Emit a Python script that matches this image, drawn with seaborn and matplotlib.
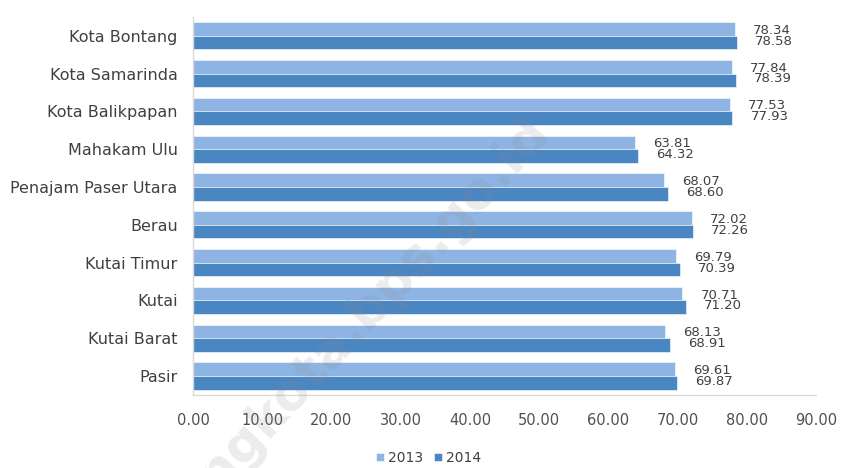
import matplotlib
matplotlib.use("Agg")
import matplotlib.pyplot as plt
import seaborn as sns
import pandas as pd

regions = ["Kota Bontang", "Kota Samarinda", "Kota Balikpapan", "Mahakam Ulu",
           "Penajam Paser Utara", "Berau", "Kutai Timur", "Kutai", "Kutai Barat", "Pasir"]
ipm_2013 = [78.34, 77.84, 77.53, 63.81, 68.07, 72.02, 69.79, 70.71, 68.13, 69.61]
ipm_2014 = [78.58, 78.39, 77.93, 64.32, 68.60, 72.26, 70.39, 71.20, 68.91, 69.87]
years = ["2013", "2014"]
x_ticks = [0, 10, 20, 30, 40, 50, 60, 70, 80, 90]

df = pd.DataFrame({
    "Wilayah": regions * 2,
    "Tahun": [years[0]] * len(regions) + [years[1]] * len(regions),
    "IPM": ipm_2013 + ipm_2014,
})

sns.set_theme(style="white")
plt.rcParams["font.family"] = ["DejaVu Sans"]

fig = plt.figure(figsize=(8.45, 4.68), dpi=100)
ax = fig.add_axes([0.2284, 0.156, 0.7373, 0.808])

palette = {"2013": "#8EB4E3", "2014": "#4A86C2"}
sns.barplot(data=df, y="Wilayah", x="IPM", hue="Tahun", order=regions,
            hue_order=years, palette=palette, orient="h", width=0.72,
            edgecolor="white", linewidth=0.4, saturation=1, ax=ax)

text_color = "#404040"
for cont, dy in zip(ax.containers, [-1.0, 1.0]):
    labels = ax.bar_label(cont, fmt="%.2f", padding=13, fontsize=9.5,
                          color=text_color)
    for t in labels:
        t.set_y(dy)

ax.set_xlim(0, 90)
ax.set_xticks(x_ticks)
ax.set_xticklabels([f"{v:.2f}" for v in x_ticks])
ax.set_xlabel("")
ax.set_ylabel("")
ax.tick_params(axis="x", length=0, pad=13, labelsize=10.5, labelcolor="#505050")
ax.tick_params(axis="y", length=0, pad=11, labelsize=11.5, labelcolor=text_color)

for side in ["top", "right"]:
    ax.spines[side].set_visible(False)
for side in ["left", "bottom"]:
    ax.spines[side].set_color("#D9D9D9")
    ax.spines[side].set_linewidth(1.0)

ax.legend(loc="center", bbox_to_anchor=(0.507, 0.022),
          bbox_transform=fig.transFigure, ncol=2, frameon=False, fontsize=10,
          handlelength=0.55, handleheight=0.55, handletextpad=0.3,
          columnspacing=0.8, labelcolor=text_color, borderpad=0.1)

fig.text(0.64, 0.735, "bontangkota.bps.go.id", fontsize=37, fontweight="bold",
         color="#8C8C8C", alpha=0.16, rotation=47, ha="right", va="center",
         rotation_mode="anchor", zorder=10)

fig.savefig("out.png", dpi=100)
